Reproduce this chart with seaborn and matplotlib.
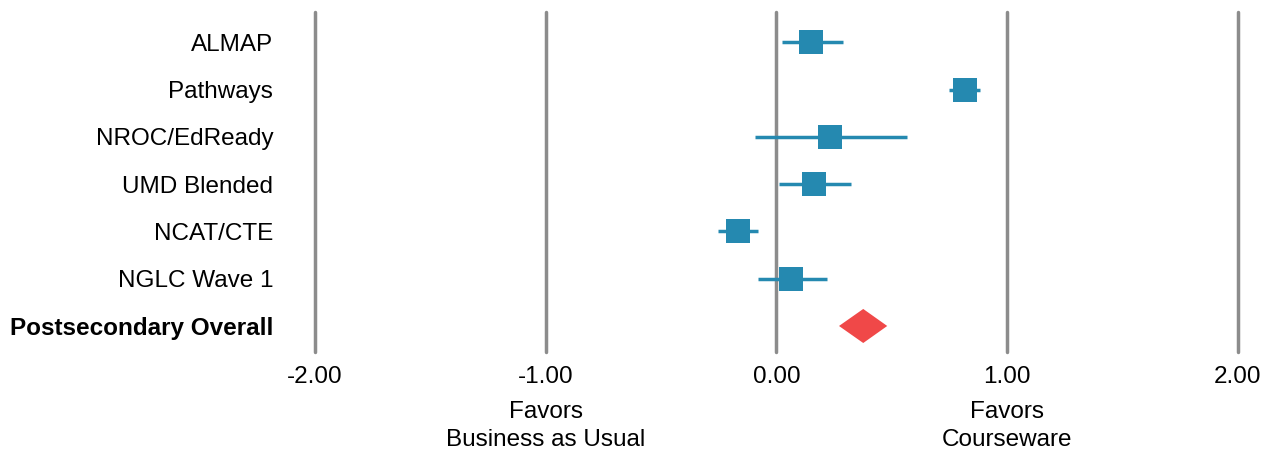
import matplotlib
matplotlib.use("Agg")
import matplotlib.pyplot as plt
import matplotlib.transforms as mtransforms
import seaborn as sns
import pandas as pd

# datos
estudios = ["ALMAP", "Pathways", "NROC/EdReady", "UMD Blended", "NCAT/CTE", "NGLC Wave 1"]
efecto = [0.150, 0.815, 0.233, 0.162, -0.166, 0.064]
ic_inf = [0.022, 0.747, -0.091, 0.009, -0.252, -0.082]
ic_sup = [0.287, 0.882, 0.564, 0.321, -0.078, 0.217]

global_etiqueta = "Postsecondary Overall"
global_efecto = 0.376
global_inf = 0.271
global_sup = 0.480

ticks_x = [-2, -1, 0, 1, 2]

azul = "#2589B0"
rojo = "#F04848"
gris = "#8C8C8C"

sns.set_theme(style="white")
plt.rcParams["font.family"] = ["Liberation Sans", "DejaVu Sans"]
plt.rcParams["text.color"] = "black"
plt.rcParams["xtick.color"] = "black"
plt.rcParams["ytick.color"] = "black"

df = pd.DataFrame({"estudio": estudios, "efecto": efecto,
                   "inf": ic_inf, "sup": ic_sup})
df["fila"] = range(len(df))

fig = plt.figure(figsize=(12.77, 4.55), dpi=100)
ax = fig.add_axes([0.2467, 0.2264, 0.9694 - 0.2467, 0.9736 - 0.2264])

for t in ticks_x:
    ax.axvline(t, color=gris, lw=2.5, zorder=1, clip_on=False)

ax.hlines(df["fila"], df["inf"], df["sup"], color=azul, lw=2.5, zorder=2)
sns.scatterplot(data=df, x="efecto", y="fila", marker="s", s=275,
                color=azul, edgecolor=azul, linewidth=0, ax=ax, zorder=3, legend=False)

fila_g = len(estudios)
h = 0.36
ax.fill([global_inf, global_efecto, global_sup, global_efecto],
        [fila_g, fila_g - h, fila_g, fila_g + h], color=rojo, lw=0, zorder=3)

ax.set_xlim(-2, 2)
ax.set_ylim(fila_g + 0.55, -0.64)
ax.set_xticks(ticks_x)
ax.set_xticklabels([f"{t:.2f}" for t in ticks_x], fontsize=17.5)
ax.set_yticks(list(range(fila_g + 1)))
ax.set_yticklabels(estudios + [global_etiqueta], fontsize=17.5)
ax.get_yticklabels()[-1].set_fontweight("bold")
ax.tick_params(axis="y", length=0, pad=30)
ax.tick_params(axis="x", length=0, pad=10)
ax.set_xlabel("")
ax.set_ylabel("")
for s in ax.spines.values():
    s.set_visible(False)

trans = mtransforms.blended_transform_factory(ax.transData, fig.transFigure)
for xpos, texto in [(-1, "Favors\nBusiness as Usual"), (1, "Favors\nCourseware")]:
    ax.text(xpos, 1 - 426 / 455, texto, transform=trans,
            ha="center", va="center", fontsize=17.5, linespacing=1.3)

fig.savefig("out.png", dpi=100)
